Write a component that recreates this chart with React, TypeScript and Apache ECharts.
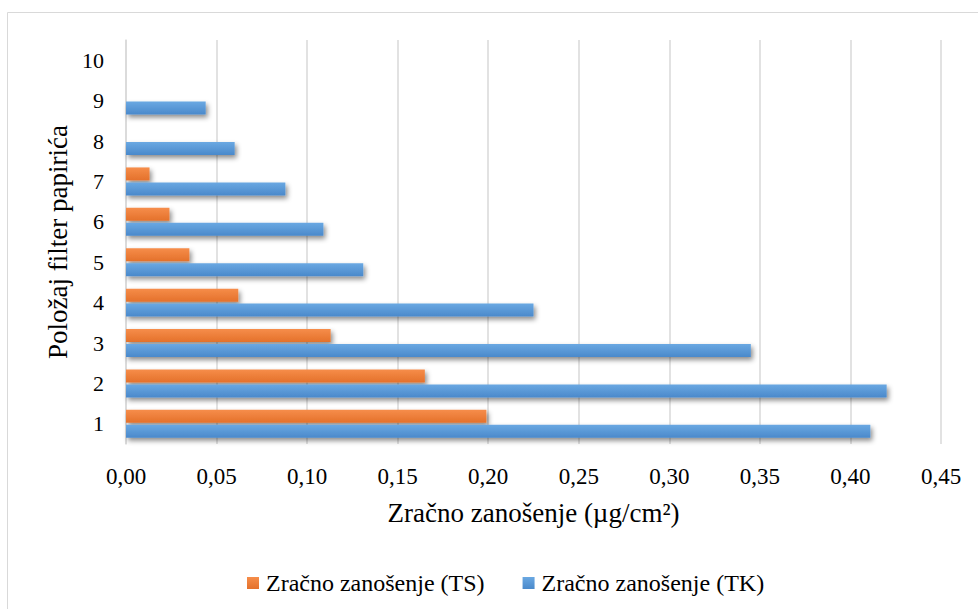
import React, { useEffect, useRef } from "react";
import * as echarts from "echarts";

const categories = ["1", "2", "3", "4", "5", "6", "7", "8", "9", "10"];
const tsValues = [0.199, 0.165, 0.113, 0.062, 0.035, 0.024, 0.013, 0, 0, 0];
const tkValues = [0.411, 0.42, 0.345, 0.225, 0.131, 0.109, 0.088, 0.06, 0.044, 0];
const tsName = "Zračno zanošenje (TS)";
const tkName = "Zračno zanošenje (TK)";
const xTitle = "Zračno zanošenje (µg/cm²)";
const yTitle = "Položaj filter papirića";

const FONT = "Liberation Serif";

export default function App() {
  const ref = useRef<HTMLDivElement>(null);
  useEffect(() => {
    if (!ref.current) return;
    const chart = echarts.init(ref.current, undefined, { renderer: "svg" });
    const grad = (a: string, b: string) =>
      new echarts.graphic.LinearGradient(0, 0, 0, 1, [
        { offset: 0, color: a },
        { offset: 1, color: b },
      ]);
    const shadow = {
      shadowBlur: 5,
      shadowColor: "rgba(0,0,0,0.45)",
      shadowOffsetX: 2,
      shadowOffsetY: 3,
    };
    chart.setOption({
      animation: false,
      backgroundColor: "#ffffff",
      textStyle: { fontFamily: FONT },
      graphic: [
        {
          type: "rect",
          shape: { x: 7.5, y: 12.5, width: 1000, height: 700 },
          style: { fill: "none", stroke: "#d9d9d9", lineWidth: 1 },
          silent: true,
        },
      ],
      grid: { left: 126, right: 37, top: 40, bottom: 165, containLabel: false },
      legend: {
        bottom: 14,
        left: 247,
        padding: 0,
        itemWidth: 12,
        itemHeight: 12,
        itemGap: 38,
        icon: "rect",
        data: [tsName, tkName],
        textStyle: {
          fontFamily: FONT,
          fontSize: 24,
          color: "#000",
          padding: [0, 0, 0, 2],
        },
      },
      xAxis: {
        type: "value",
        min: 0,
        max: 0.45,
        interval: 0.05,
        axisLine: { show: false },
        axisTick: { show: false },
        splitLine: { show: true, lineStyle: { color: "#d9d9d9", width: 1.5 } },
        axisLabel: {
          fontFamily: FONT,
          fontSize: 23,
          color: "#000",
          margin: 21,
          formatter: (v: number) => v.toFixed(2).replace(".", ","),
        },
        name: xTitle,
        nameLocation: "middle",
        nameGap: 55,
        nameTextStyle: { fontFamily: FONT, fontSize: 27, color: "#000" },
      },
      yAxis: {
        type: "category",
        data: categories,
        axisLine: { show: true, lineStyle: { color: "#d9d9d9", width: 1.5 } },
        axisTick: { show: false },
        axisLabel: { fontFamily: FONT, fontSize: 22, color: "#000", margin: 22 },
        name: yTitle,
        nameLocation: "middle",
        nameGap: 51,
        nameTextStyle: { fontFamily: FONT, fontSize: 27, color: "#000" },
      },
      series: [
        {
          name: tsName,
          type: "bar",
          data: tsValues,
          barWidth: 13,
          barGap: "15%",
          color: "#ED7D31",
          itemStyle: { color: grad("#f68d4a", "#e4712b"), ...shadow },
        },
        {
          name: tkName,
          type: "bar",
          data: tkValues,
          barWidth: 13,
          barGap: "15%",
          color: "#5B9BD5",
          itemStyle: { color: grad("#6aa8e2", "#4a89cb"), ...shadow },
        },
      ],
    });
    return () => chart.dispose();
  }, []);
  return (
    <div
      ref={ref}
      style={{ position: "fixed", left: 0, top: 0, width: 978, height: 609 }}
    />
  );
}
